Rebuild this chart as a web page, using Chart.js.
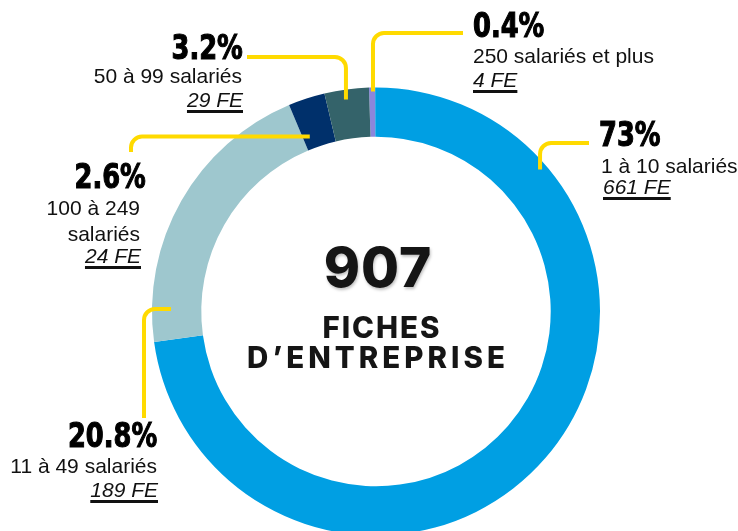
<!DOCTYPE html>
<html>
<head>
<meta charset="utf-8">
<script src="https://cdn.jsdelivr.net/npm/chart.js@4/dist/chart.umd.min.js"></script>
<style>
html,body{margin:0;padding:0;background:#fff;overflow:hidden;width:738px;height:531px;position:relative;}
#wrap{position:absolute;left:0;top:0;width:738px;height:560px;}
.t{position:absolute;white-space:nowrap;color:#111;line-height:1;}
.pct{font-family:"DejaVu Sans Condensed","DejaVu Sans",sans-serif;font-weight:bold;color:#000;-webkit-text-stroke:1.1px #000;}
.body{font-family:"Liberation Sans",Arial,sans-serif;}
.fe{font-style:italic;text-decoration:underline;text-decoration-thickness:2.5px;text-underline-offset:3px;}
.ctr{font-family:Inter,"Open Sans",sans-serif;font-weight:800;color:#151515;}
</style>
</head>
<body>
<div id="wrap"><canvas id="c" width="738" height="560"></canvas></div>
<script>
// ---- data ----
const categories = ['250 salariés et plus', '1 à 10 salariés', '11 à 49 salariés', '100 à 249 salariés', '50 à 99 salariés'];
const categoryLines = [['250 salariés et plus'], ['1 à 10 salariés'], ['11 à 49 salariés'], ['100 à 249', 'salariés'], ['50 à 99 salariés']];
const fiches = [4, 661, 189, 24, 29];
const percentLabels = ['0.4%', '73%', '20.8%', '2.6%', '3.2%'];
const feLabels = ['4 FE', '661 FE', '189 FE', '24 FE', '29 FE'];
const totalLabel = '907';
const centerLines = ['FICHES', 'D’ENTREPRISE'];

// ---- styles ----
const colors = ['#8C86DB', '#009FE3', '#9EC7CE', '#00306B', '#34636A'];
const leaderColor = '#FFDA00';

// leader routing: where on the slice the line starts, and where it ends near the label
const leaders = [
  {t: 0.64, depth: 4, first: 'v', to: [463, 33]},
  {t: 0.188, depth: 7, first: 'v', to: [589, 143]},
  {t: 0.114, depth: 19, first: 'h', to: [144, 418]},
  {t: 0.22, depth: 37, first: 'h', to: [131, 152]},
  {t: 0.455, depth: 10, first: 'v', to: [247, 57]}
];

// label layout: pct anchor, text anchor, baselines
const labelLayout = [
  {align: 'left', px: 473, py: 37, tx: 473, ty: [63], fx: 473, fy: 87},
  {align: 'left', px: 599, py: 146, tx: 601, ty: [173], fx: 603, fy: 194},
  {align: 'right', px: 157, py: 447, tx: 157, ty: [473], fx: 158, fy: 497},
  {align: 'right', px: 146, py: 188, tx: 140, ty: [215, 241], fx: 141, fy: 263},
  {align: 'right', px: 243, py: 59, tx: 242, ty: [83], fx: 243, fy: 107}
];

const K = {pct: 0.846, body: 0.8465, ctr: 0.863};

function put(text, cls, kind, x, baseline, align, size, extra) {
  const d = document.createElement('div');
  d.className = 't ' + cls;
  d.textContent = text;
  d.style.fontSize = size + 'px';
  d.style.top = (baseline - K[kind] * size) + 'px';
  let tf = '';
  if (align === 'left') { d.style.left = x + 'px'; d.style.transformOrigin = 'left center'; }
  else if (align === 'right') { d.style.right = (738 - x) + 'px'; d.style.transformOrigin = 'right center'; }
  else { d.style.left = x + 'px'; tf = 'translateX(-50%) '; }
  if (extra && extra.scaleX) tf += 'scaleX(' + extra.scaleX + ')';
  if (tf) d.style.transform = tf;
  if (extra && extra.ls) d.style.letterSpacing = extra.ls + 'px';
  if (extra && extra.shadow) d.style.textShadow = extra.shadow;
  document.body.appendChild(d);
  return d;
}

labelLayout.forEach((L, i) => {
  put(percentLabels[i], 'pct', 'pct', L.px, L.py, L.align, 34, {scaleX: 0.84});
  categoryLines[i].forEach((line, j) => put(line, 'body', 'body', L.tx, L.ty[j], L.align, 21));
  put(feLabels[i], 'body fe', 'body', L.fx, L.fy, L.align, 21);
});

const leaderPlugin = {
  id: 'leaders',
  afterDatasetsDraw(chart) {
    const c = chart.ctx;
    const arcs = chart.getDatasetMeta(0).data;
    c.save();
    c.strokeStyle = leaderColor;
    c.lineWidth = 4;
    c.lineJoin = 'round';
    arcs.forEach((arc, i) => {
      const p = arc.getProps(['x', 'y', 'startAngle', 'endAngle', 'outerRadius'], true);
      const L = leaders[i];
      const a = p.startAngle + L.t * (p.endAngle - p.startAngle);
      const r = p.outerRadius - L.depth;
      const ax = p.x + r * Math.cos(a), ay = p.y + r * Math.sin(a);
      const [tx, ty] = L.to;
      c.beginPath();
      c.moveTo(ax, ay);
      if (L.first === 'v') c.arcTo(ax, ty, tx, ty, 11);
      else c.arcTo(tx, ay, tx, ty, 11);
      c.lineTo(tx, ty);
      c.stroke();
    });
    c.restore();
  }
};

new Chart(document.getElementById('c'), {
  type: 'doughnut',
  data: {
    labels: categories,
    datasets: [{data: fiches, backgroundColor: colors, borderWidth: 0, hoverOffset: 0}]
  },
  options: {
    responsive: false,
    animation: false,
    events: [],
    rotation: -1.8,
    cutout: '78%',
    layout: {padding: {top: 87.5, bottom: 24.5, left: 152, right: 138}},
    plugins: {legend: {display: false}, tooltip: {enabled: false}}
  },
  plugins: [leaderPlugin]
});

put(totalLabel, 'ctr', 'ctr', 378, 287, 'center', 55, {ls: 1, shadow: '1px 2px 3px rgba(0,0,0,0.25)'});
put(centerLines[0], 'ctr', 'ctr', 382, 338, 'center', 29.5, {ls: 2});
put(centerLines[1], 'ctr', 'ctr', 378, 368, 'center', 29.5, {ls: 4});
</script>
</body>
</html>
